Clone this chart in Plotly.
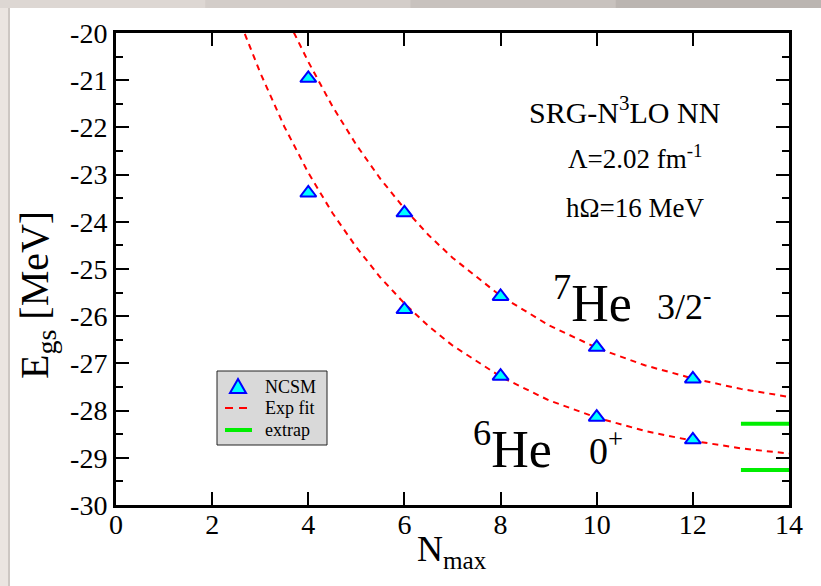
import plotly.graph_objects as go

# ---- data ----
nmax = [4, 6, 8, 10, 12]
he7_ncsm = [-20.96, -23.81, -25.58, -26.66, -27.33]
he6_ncsm = [-23.39, -25.86, -27.27, -28.14, -28.62]

fit7_n = [3.70, 4.0, 4.5, 5.0, 5.5, 6.0, 6.5, 7.0, 8.0, 9.0, 10.0, 11.0, 12.0, 13.0, 14.0]
fit7_e = [-19.99, -20.61, -21.55, -22.37, -23.09, -23.72, -24.28, -24.76, -25.57, -26.19,
          -26.67, -27.04, -27.32, -27.54, -27.71]
fit6_n = [2.68, 3.0, 3.5, 4.0, 4.5, 5.0, 5.5, 6.0, 6.5, 7.0, 8.0, 9.0, 10.0, 11.0, 12.0, 13.0, 14.0]
fit6_e = [-20.02, -20.84, -21.98, -22.96, -23.81, -24.54, -25.18, -25.73, -26.21, -26.62,
          -27.28, -27.78, -28.15, -28.43, -28.64, -28.80, -28.91]

extrap_n = [13.0, 14.0]
extrap7 = -28.28
extrap6 = -29.26

x_ticks = [0, 2, 4, 6, 8, 10, 12, 14]
y_ticks = [-30, -29, -28, -27, -26, -25, -24, -23, -22, -21, -20]
legend_labels = ["NCSM", "Exp fit", "extrap"]

FONT = "Liberation Serif"
RED = "#ff0000"
GREEN = "#00ee00"

fig = go.Figure()

dash = "6px,5px"
fig.add_trace(go.Scatter(x=fit7_n, y=fit7_e, mode="lines", name="Exp fit",
                         line=dict(color=RED, width=2, dash=dash), showlegend=False))
fig.add_trace(go.Scatter(x=fit6_n, y=fit6_e, mode="lines", name="Exp fit",
                         line=dict(color=RED, width=2, dash=dash), showlegend=False))
fig.add_trace(go.Scatter(x=extrap_n, y=[extrap7, extrap7], mode="lines", name="extrap",
                         line=dict(color=GREEN, width=4), showlegend=False))
fig.add_trace(go.Scatter(x=extrap_n, y=[extrap6, extrap6], mode="lines", name="extrap",
                         line=dict(color=GREEN, width=4), showlegend=False))
mk = dict(symbol="triangle-up", size=14, color="#00ffff", line=dict(color="#0000ff", width=2))
fig.add_trace(go.Scatter(x=nmax, y=he7_ncsm, mode="markers", name="NCSM", marker=mk,
                         showlegend=False))
fig.add_trace(go.Scatter(x=nmax, y=he6_ncsm, mode="markers", name="NCSM", marker=mk,
                         showlegend=False))

L, R, T, B = 116, 32, 33, 81
W, H = 821, 586
pw, ph = W - L - R, H - T - B


def px(xp):
    return (xp - L) / pw


def py(yp):
    return (H - B - yp) / ph


shapes = []
# gray border of the original picture
top_cols = ["#ddd7d3", "#d3cdc9", "#c8c2be", "#bbb5b1"]
for i, c in enumerate(top_cols):
    shapes.append(dict(type="rect", xref="paper", yref="paper",
                       x0=px(i * W / 4), x1=px((i + 1) * W / 4 + 1),
                       y0=py(8), y1=py(0), fillcolor=c, line=dict(width=0), layer="above"))
shapes.append(dict(type="rect", xref="paper", yref="paper",
                   x0=px(0), x1=px(8), y0=py(H), y1=py(8),
                   fillcolor="#ebe5e1", line=dict(width=0), layer="above"))
shapes.append(dict(type="rect", xref="paper", yref="paper",
                   x0=px(8), x1=px(10), y0=py(H), y1=py(8),
                   fillcolor="#cdc7c3", line=dict(width=0), layer="above"))

# manual legend box
lx0, lx1, ly0, ly1 = 217, 327, 371, 445
shapes.append(dict(type="rect", xref="paper", yref="paper",
                   x0=px(lx0), x1=px(lx1), y0=py(ly1), y1=py(ly0),
                   fillcolor="#d9d9d9", line=dict(color="#222222", width=1), layer="above"))
rows = [387, 408, 430]
sx = 238
tri = "M {a},{b} L {c},{d} L {e},{f} Z".format(
    a=px(sx - 8), b=py(rows[0] + 6), c=px(sx + 8), d=py(rows[0] + 6), e=px(sx), f=py(rows[0] - 8))
shapes.append(dict(type="path", xref="paper", yref="paper", path=tri,
                   fillcolor="#00ffff", line=dict(color="#0000ff", width=2), layer="above"))
shapes.append(dict(type="line", xref="paper", yref="paper",
                   x0=px(225), x1=px(252), y0=py(rows[1]), y1=py(rows[1]),
                   line=dict(color=RED, width=2, dash="8px,6px"), layer="above"))
shapes.append(dict(type="line", xref="paper", yref="paper",
                   x0=px(225), x1=px(252), y0=py(rows[2]), y1=py(rows[2]),
                   line=dict(color=GREEN, width=4), layer="above"))

ann = []


def add_text(text, x, y, size, xanchor="center", yanchor="middle", angle=0):
    ann.append(dict(text=text, x=x, y=y, xref="paper", yref="paper", showarrow=False,
                    xanchor=xanchor, yanchor=yanchor, textangle=angle,
                    font=dict(family=FONT, size=size, color="black")))


for lab, ry in zip(legend_labels, rows):
    add_text(lab, px(263), py(ry), 18, xanchor="left")

add_text("SRG-N<sup>3</sup>LO NN", px(624), py(110), 30)
add_text("Λ=2.02 fm<sup>-1</sup>", px(635), py(157), 27)
add_text("hΩ=16 MeV", px(635), py(208), 27)
add_text("<sup>7</sup>He", px(551), py(300), 52, xanchor="left")
add_text("3/2<sup>-</sup>", px(655), py(304), 36, xanchor="left")
add_text("<sup>6</sup>He", px(471), py(445), 52, xanchor="left")
add_text("0<sup>+</sup>", px(587), py(448), 38, xanchor="left")
add_text("N<sub>max</sub>", px(452), py(527), 36, yanchor="top")
add_text("E<sub>gs</sub> [MeV]", px(37), py(295), 40, angle=-90)

tick_font = dict(family=FONT, size=28, color="black")

fig.update_layout(
    template="none",
    width=W, height=H,
    margin=dict(l=L, r=R, t=T, b=B, pad=0),
    paper_bgcolor="white", plot_bgcolor="white",
    shapes=shapes, annotations=ann,
    showlegend=False,
    font=dict(family=FONT, color="black", size=24),
    xaxis=dict(range=[0, 14], tickmode="array", tickvals=x_ticks,
               ticktext=[str(v) for v in x_ticks],
               ticks="inside", ticklen=13, tickwidth=2, tickcolor="black",
               ticklabelstandoff=-8,
               showline=True, linewidth=3, linecolor="black", mirror="ticks",
               showgrid=False, zeroline=False, tickfont=tick_font),
    yaxis=dict(range=[-30, -20], tickmode="array", tickvals=y_ticks,
               ticktext=[str(v) for v in y_ticks],
               ticks="inside", ticklen=13, tickwidth=2, tickcolor="black",
               minor=dict(dtick=0.5, ticks="inside", ticklen=7, tickwidth=2,
                          tickcolor="black", showgrid=False),
               showline=True, linewidth=3, linecolor="black", mirror="ticks",
               showgrid=False, zeroline=False, tickfont=tick_font),
)

fig.write_html("out.html")
